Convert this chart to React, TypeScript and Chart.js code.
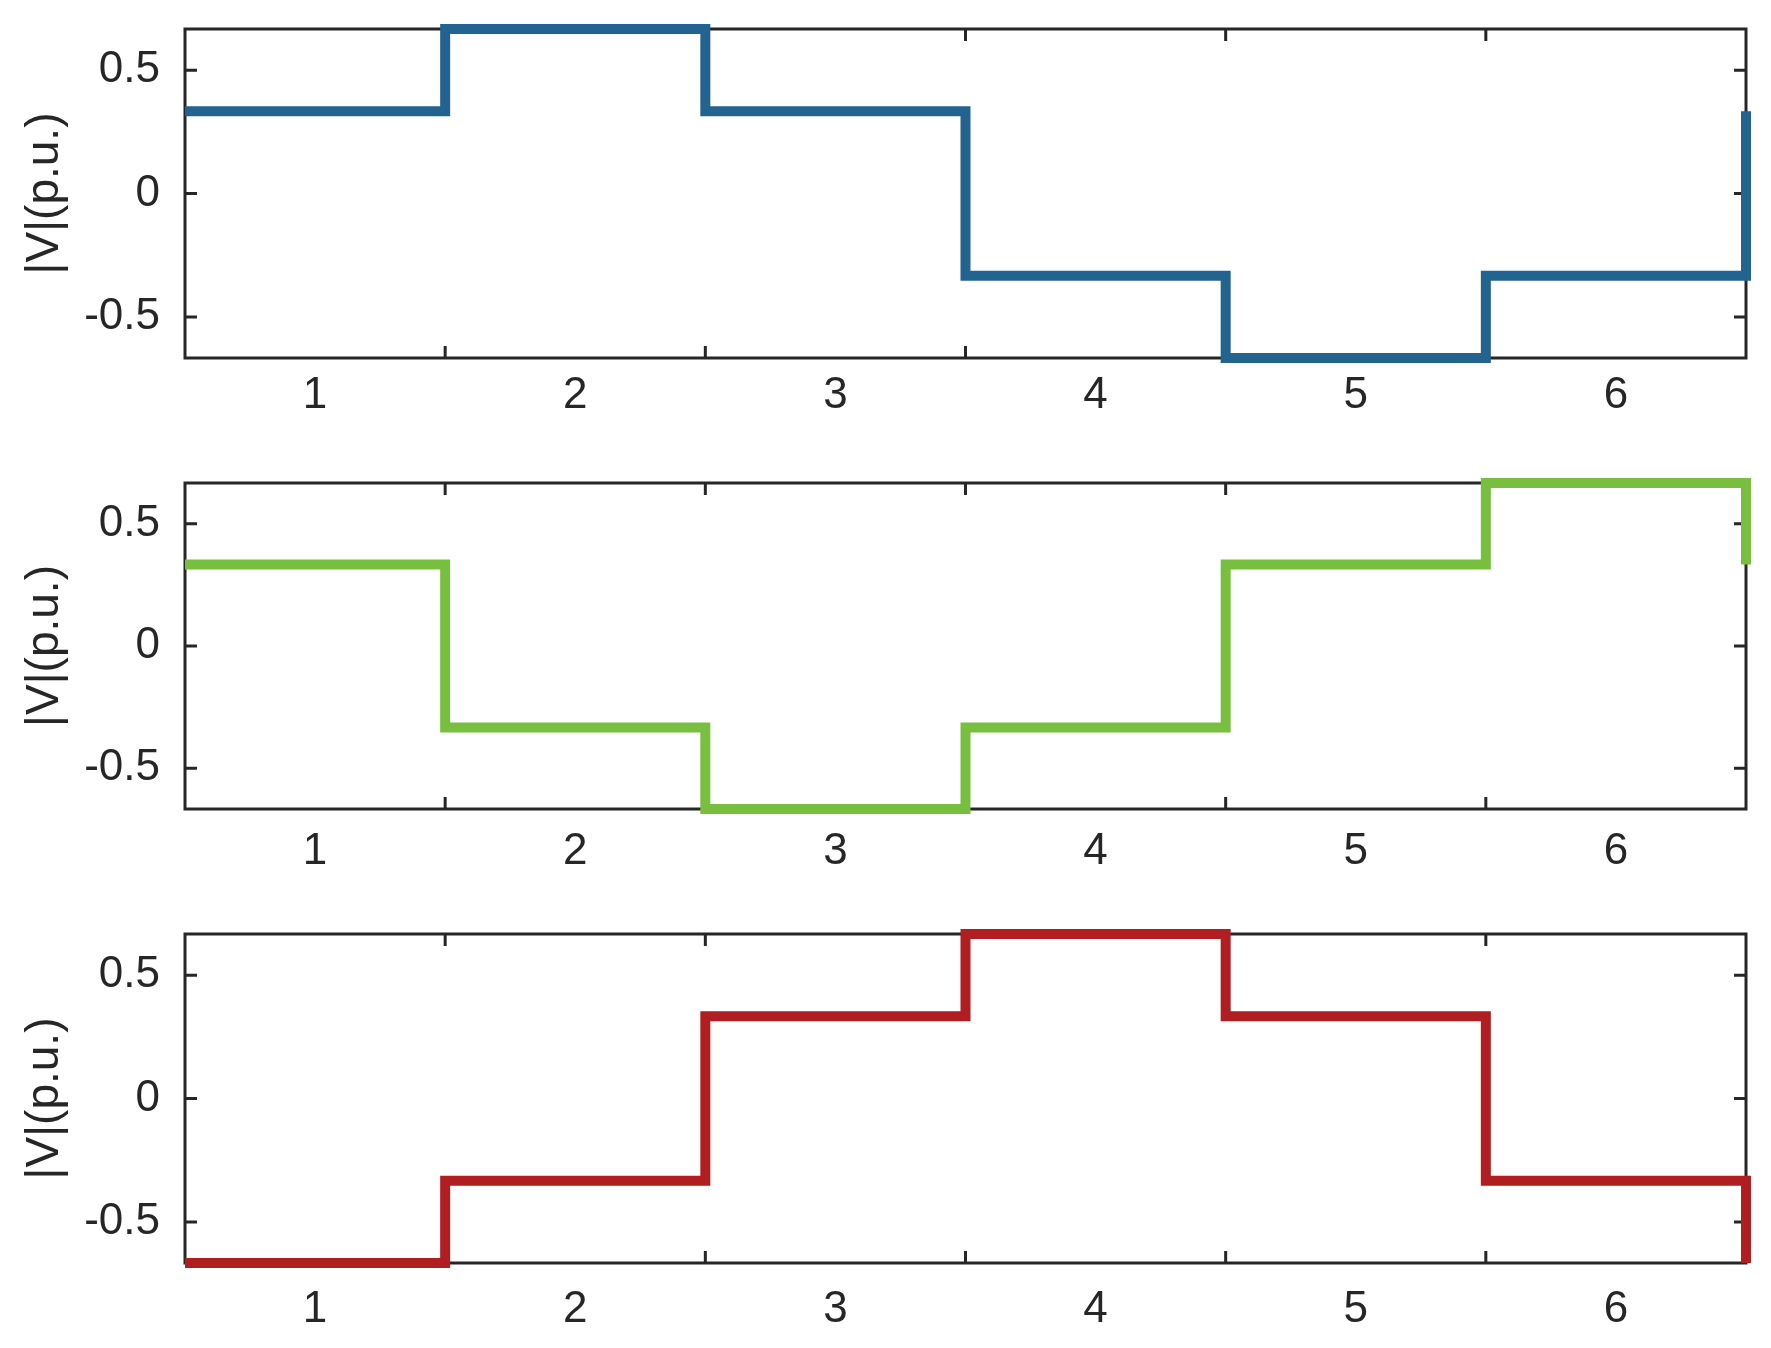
import React, { useEffect, useRef } from 'react';
import { Chart, registerables } from 'chart.js';

Chart.register(...registerables);

// ---- data ----
const sectorLabels = ['1', '2', '3', '4', '5', '6'];
const sectorCenters = [1, 2, 3, 4, 5, 6];
const sectorStarts = [0.5, 1.5, 2.5, 3.5, 4.5, 5.5];
const sectorEnd = 6.5;
const sectorBoundaries = [1.5, 2.5, 3.5, 4.5, 5.5];
const yTickValues = [-0.5, 0, 0.5];
const yTickLabels = ['-0.5', '0', '0.5'];
const yLimit = 2 / 3;

const phaseA = [1 / 3, 2 / 3, 1 / 3, -1 / 3, -2 / 3, -1 / 3];
const phaseB = [1 / 3, -1 / 3, -2 / 3, -1 / 3, 1 / 3, 2 / 3];
const phaseC = [-2 / 3, -1 / 3, 1 / 3, 2 / 3, 1 / 3, -1 / 3];
const phaseEnds = [1 / 3, 1 / 3, -2 / 3];
const phaseSeries = [phaseA, phaseB, phaseC];
const yTitle = '|V|(p.u.)';

// ---- layout / style ----
const W = 1771;
const H = 1348;
const PLOT_LEFT = 185;
const PLOT_RIGHT = 1746;
const panels = [
  { canvasTop: 0, canvasBottom: 440, top: 29, bottom: 358, color: '#22638F', labelPad: 16 },
  { canvasTop: 440, canvasBottom: 890, top: 483, bottom: 809, color: '#78BF40', labelPad: 21 },
  { canvasTop: 890, canvasBottom: 1348, top: 934, bottom: 1263, color: '#B01E22', labelPad: 25 },
];
const AXIS_COLOR = '#262626';
const FONT_FAMILY = '"Liberation Sans", Arial, Helvetica, sans-serif';
const TICK_LEN = 12;

const framePlugin = {
  id: 'matlabFrame',
  beforeDatasetsDraw(chart: any) {
    const { ctx, chartArea: a, scales } = chart;
    const x = scales.x;
    const y = scales.y;
    ctx.save();
    ctx.strokeStyle = AXIS_COLOR;
    ctx.lineWidth = 3;
    ctx.lineCap = 'butt';
    ctx.strokeRect(a.left, a.top, a.right - a.left, a.bottom - a.top);
    ctx.beginPath();
    for (const v of sectorBoundaries) {
      const px = x.getPixelForValue(v);
      ctx.moveTo(px, a.bottom);
      ctx.lineTo(px, a.bottom - TICK_LEN);
      ctx.moveTo(px, a.top);
      ctx.lineTo(px, a.top + TICK_LEN);
    }
    for (const v of yTickValues) {
      const py = y.getPixelForValue(v);
      ctx.moveTo(a.left, py);
      ctx.lineTo(a.left + TICK_LEN, py);
      ctx.moveTo(a.right, py);
      ctx.lineTo(a.right - TICK_LEN, py);
    }
    ctx.stroke();
    ctx.restore();
  },
};

function buildPoints(values: number[], end: number) {
  const pts = values.map((v, i) => ({ x: sectorStarts[i], y: v }));
  pts.push({ x: sectorEnd, y: values[values.length - 1] });
  pts.push({ x: sectorEnd, y: end });
  return pts;
}

function Panel({ idx }: { idx: number }) {
  const ref = useRef<HTMLCanvasElement | null>(null);
  const p = panels[idx];
  const ch = p.canvasBottom - p.canvasTop;
  useEffect(() => {
    if (!ref.current) return;
    const chart = new Chart(ref.current, {
      type: 'line',
      data: {
        datasets: [
          {
            data: buildPoints(phaseSeries[idx], phaseEnds[idx]),
            borderColor: p.color,
            backgroundColor: p.color,
            borderWidth: 10,
            stepped: 'before',
            pointRadius: 0,
            fill: false,
            clip: false,
            borderJoinStyle: 'miter',
            borderCapStyle: 'butt',
          } as any,
        ],
      },
      options: {
        animation: false,
        responsive: false,
        maintainAspectRatio: false,
        layout: { padding: { left: 0, right: W - PLOT_RIGHT, top: p.top - p.canvasTop, bottom: 0 } },
        plugins: { legend: { display: false }, tooltip: { enabled: false } },
        scales: {
          x: {
            type: 'linear',
            min: sectorStarts[0],
            max: sectorEnd,
            grid: { display: false, drawTicks: false, tickLength: 0 },
            border: { display: false },
            afterBuildTicks: (s: any) => {
              s.ticks = sectorCenters.map((v) => ({ value: v }));
            },
            afterFit: (s: any) => {
              s.height = p.canvasBottom - p.bottom;
              s.paddingLeft = 0;
              s.paddingRight = 0;
            },
            ticks: {
              autoSkip: false,
              maxRotation: 0,
              padding: p.labelPad,
              color: AXIS_COLOR,
              font: { family: FONT_FAMILY, size: 44, lineHeight: 1 },
              callback: (_v: any, i: number) => sectorLabels[i],
            },
          },
          y: {
            type: 'linear',
            min: -yLimit,
            max: yLimit,
            grid: { display: false, drawTicks: false, tickLength: 0 },
            border: { display: false },
            afterBuildTicks: (s: any) => {
              s.ticks = yTickValues.map((v) => ({ value: v }));
            },
            afterFit: (s: any) => {
              s.width = PLOT_LEFT;
              s.paddingTop = 0;
              s.paddingBottom = 0;
            },
            ticks: {
              padding: 25,
              color: AXIS_COLOR,
              font: { family: FONT_FAMILY, size: 44, lineHeight: 1 },
              callback: (_v: any, i: number) => yTickLabels[i],
            },
            title: {
              display: true,
              text: yTitle,
              color: AXIS_COLOR,
              font: { family: FONT_FAMILY, size: 46, lineHeight: 1 },
              padding: { top: 22, bottom: 0 },
            },
          },
        },
      },
      plugins: [framePlugin],
    } as any);
    return () => chart.destroy();
  }, [idx]);
  return (
    <canvas
      ref={ref}
      width={W}
      height={ch}
      style={{ position: 'absolute', left: 0, top: p.canvasTop, width: W, height: ch, display: 'block' }}
    />
  );
}

export default function App() {
  return (
    <div style={{ position: 'absolute', left: 0, top: 0, width: W, height: H, background: '#ffffff' }}>
      {panels.map((_, i) => (
        <Panel key={i} idx={i} />
      ))}
    </div>
  );
}
